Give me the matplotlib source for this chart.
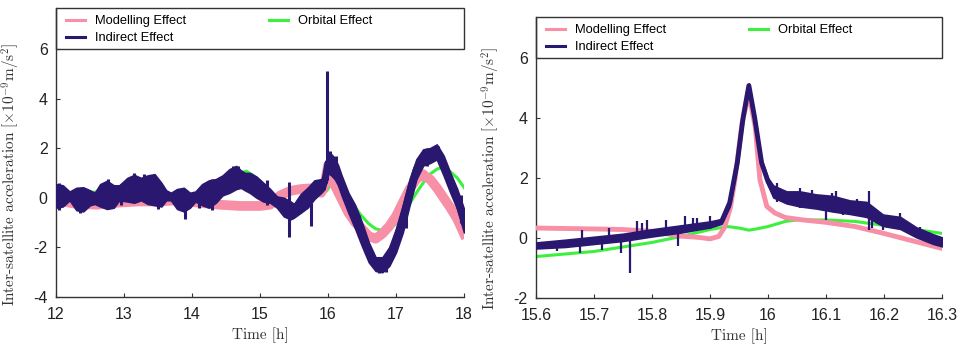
import matplotlib
matplotlib.use('Agg')
import matplotlib.pyplot as plt
from matplotlib.patches import Rectangle
from matplotlib.ticker import FormatStrFormatter
import numpy as np

# --- DATA: left panel, 12h - 18h ---
left_orb_t = [12.0, 12.2, 12.5, 12.8, 13.0, 13.3, 13.6, 13.8, 14.0, 14.15, 14.3, 14.5, 14.65, 14.8,
              14.9, 15.0, 15.1, 15.2, 15.3, 15.4, 15.5, 15.6, 15.7, 15.8, 15.9, 15.95, 15.97,
              16.0, 16.05, 16.1, 16.2, 16.3, 16.4, 16.5, 16.6, 16.7, 16.8, 16.9, 17.0, 17.1,
              17.2, 17.3, 17.4, 17.5, 17.6, 17.65, 17.7, 17.8, 17.9, 18.0]
left_orb_v = [0.0, 0.05, 0.2, 0.32, 0.35, 0.25, 0.05, -0.05, -0.05, 0.05, 0.3, 0.7, 0.95, 1.07,
              0.9, 0.6, 0.25, -0.1, -0.4, -0.62, -0.72, -0.6, -0.3, 0.0, 0.2, 0.3, 0.25,
              0.35, 0.62, 0.55, 0.3, -0.05, -0.4, -0.75, -1.05, -1.25, -1.32, -1.25, -1.05, -0.7,
              -0.25, 0.2, 0.6, 0.95, 1.15, 1.2, 1.18, 1.05, 0.8, 0.42]

left_mod_t = [12.0, 12.3, 12.6, 12.9, 13.2, 13.5, 13.8, 14.1, 14.4, 14.7, 15.0, 15.15,
              15.3, 15.45, 15.6, 15.75, 15.9, 15.95, 16.0, 16.05, 16.1, 16.2, 16.3, 16.4, 16.5,
              16.6, 16.7, 16.8, 16.9, 17.0, 17.1, 17.2, 17.3, 17.4, 17.45, 17.5, 17.6, 17.7,
              17.8, 17.9, 18.0]
left_mod_v = [-0.1, -0.25, -0.28, -0.2, -0.15, -0.15, -0.1, -0.2, -0.28, -0.33, -0.33, -0.28,
              0.1, 0.28, 0.35, 0.38, 0.2, 0.5, 1.3, 0.75, 0.5, -0.05, -0.6, -1.0, -1.25,
              -1.55, -1.65, -1.45, -1.15, -0.75, -0.2, 0.35, 0.75, 0.95, 0.82, 0.75, 0.4, 0.0,
              -0.4, -0.85, -1.45]

# indirect effect: noise band, lower and upper edge
left_ind_t = [12.0, 12.1, 12.2, 12.3, 12.4, 12.5, 12.57, 12.65, 12.75, 12.85, 12.93, 13.05, 13.15,
              13.25, 13.35, 13.45, 13.55, 13.62, 13.69, 13.78, 13.88, 13.97, 14.05, 14.15, 14.25,
              14.35, 14.45, 14.55, 14.65, 14.72, 14.78, 14.85, 14.95, 15.05, 15.15, 15.25, 15.35,
              15.45, 15.5, 15.6, 15.7, 15.8, 15.9, 15.95, 16.0, 16.05, 16.1, 16.15, 16.2, 16.3,
              16.4, 16.5, 16.6, 16.7, 16.8, 16.9, 17.0, 17.1, 17.2, 17.3, 17.4, 17.5, 17.6, 17.7,
              17.8, 17.9, 18.0]
left_ind_lo = [-0.4, -0.35, -0.1, -0.5, -0.55, -0.3, -0.25, -0.35, -0.45, -0.4, -0.1, -0.15, -0.2,
               -0.1, -0.25, -0.3, -0.35, -0.1, -0.1, -0.45, -0.55, -0.4, -0.15, -0.3, -0.4,
               -0.2, 0.1, 0.2, 0.35, 0.4, 0.3, 0.2, 0.0, -0.15, -0.2, -0.4, -0.75,
               -0.87, -0.8, -0.6, -0.4, -0.05, 0.2, 0.35, 1.0, 0.9, 0.75, 0.5, 0.1, -0.6,
               -1.25, -1.95, -2.6, -2.95, -3.0, -2.75, -2.2, -1.4, -0.3, 0.75, 1.3, 1.4, 1.55, 0.9,
               0.2, -0.45, -1.4]
left_ind_hi = [0.55, 0.5, 0.25, 0.4, 0.42, 0.3, 0.2, 0.55, 0.68, 0.5, 0.5, 0.8, 0.92,
               0.8, 0.9, 0.95, 0.6, 0.3, 0.2, 0.35, 0.4, 0.2, 0.25, 0.55, 0.7,
               0.75, 0.9, 1.15, 1.28, 1.1, 1.0, 1.0, 0.85, 0.6, 0.35, 0.05, 0.0,
               -0.15, -0.25, 0.15, 0.4, 0.7, 0.75, 0.9, 1.8, 1.75, 1.6, 1.3, 0.9, 0.2,
               -0.3, -1.0, -1.8, -2.4, -2.4, -2.0, -1.25, -0.3, 0.75, 1.55, 1.95, 2.0, 2.15, 1.7,
               1.0, 0.35, -0.45]

# short glitches in the indirect signal: time, min, max
left_spk_t = [12.05, 12.35, 12.76, 12.95, 13.15, 13.3, 13.5, 13.9, 14.1, 14.3, 14.6, 14.68,
              15.1, 15.42, 15.75, 15.98, 16.03, 16.12, 16.45, 16.75, 16.85, 17.15, 17.45,
              17.62, 17.95]
left_spk_lo = [-0.5, -0.63, 0.2, -0.3, 0.3, 0.3, -0.46, -0.87, -0.4, -0.5, 0.3, 0.5,
               -0.3, -1.6, -1.13, 0.7, 1.0, 0.8, -1.6, -3.05, -3.0, -1.2, 1.3,
               1.5, -1.0]
left_spk_hi = [0.6, 0.1, 0.75, 0.55, 1.0, 0.97, 0.2, -0.1, 0.3, 0.75, 1.3, 1.3,
               0.7, 0.62, -0.2, 5.1, 1.9, 1.7, -0.7, -2.4, -2.4, 0.1, 2.0,
               2.1, 0.1]

# --- DATA: right panel, 15.6h - 16.3h ---
right_orb_t = [15.6, 15.7, 15.8, 15.85, 15.9, 15.93, 15.95, 15.967, 15.98, 16.0, 16.03, 16.05,
               16.1, 16.15, 16.2, 16.25, 16.3]
right_orb_v = [-0.62, -0.45, -0.15, 0.05, 0.28, 0.38, 0.33, 0.26, 0.3, 0.38, 0.55, 0.6,
               0.6, 0.55, 0.42, 0.3, 0.15]

right_mod_t = [15.6, 15.7, 15.75, 15.8, 15.85, 15.88, 15.9, 15.915, 15.925, 15.935, 15.943, 15.955,
               15.967, 15.978, 15.986, 15.998, 16.012, 16.03, 16.06, 16.1, 16.15, 16.2, 16.25, 16.3]
right_mod_v = [0.33, 0.3, 0.28, 0.22, 0.06, 0.02, -0.03, 0.05, 0.35, 1.0, 1.94, 3.8,
               4.78, 3.7, 1.94, 1.05, 0.83, 0.68, 0.6, 0.52, 0.38, 0.15, -0.1, -0.35]

right_ind_t = [15.6, 15.65, 15.7, 15.75, 15.8, 15.85, 15.9, 15.92, 15.934, 15.947, 15.957, 15.967,
               15.977, 15.989, 16.0, 16.009, 16.032, 16.055, 16.083, 16.112, 16.141, 16.17, 16.198,
               16.228, 16.256, 16.285, 16.3]
right_ind_lo = [-0.35, -0.3, -0.2, -0.1, 0.05, 0.18, 0.35, 0.47, 1.05, 2.4, 3.9, 5.0,
                3.9, 2.4, 1.75, 1.35, 1.15, 1.05, 0.98, 0.88, 0.8, 0.7, 0.4,
                0.3, 0.02, -0.2, -0.28]
right_ind_hi = [-0.15, -0.06, 0.04, 0.14, 0.29, 0.42, 0.55, 0.63, 1.3, 2.6, 4.1, 5.15,
                4.1, 2.6, 2.0, 1.75, 1.55, 1.55, 1.45, 1.4, 1.25, 1.2, 0.78,
                0.7, 0.35, 0.12, 0.02]

right_spk_t = [15.636, 15.676, 15.68, 15.714, 15.726, 15.746, 15.762, 15.774, 15.783, 15.791,
               15.824, 15.845, 15.857, 15.871, 15.878, 15.9, 16.016, 16.055, 16.075, 16.1, 16.11,
               16.118, 16.13, 16.154, 16.174, 16.18, 16.199, 16.228, 16.262]
right_spk_lo = [-0.45, -0.5, -0.1, -0.41, -0.1, -0.5, -1.16, 0.0, 0.0, 0.1,
                0.1, -0.28, 0.2, 0.3, 0.3, 0.3, 1.2, 1.0, 1.0, 0.61, 1.0,
                1.0, 0.75, 0.72, 0.28, 0.33, 0.28, 0.3, 0.0]
right_spk_hi = [-0.1, -0.1, 0.28, 0.0, 0.34, 0.0, -0.1, 0.55, 0.5, 0.6,
                0.6, 0.25, 0.72, 0.67, 0.65, 0.72, 1.84, 1.67, 1.6, 1.2, 1.5,
                1.55, 1.3, 1.3, 1.56, 1.0, 0.7, 0.83, 0.35]

labels = ['Modelling Effect', 'Indirect Effect', 'Orbital Effect']
c_mod = '#f78fa7'
c_ind = '#2a1870'
c_orb = '#3ef03e'
c_axis = '#333333'

plt.rcParams['mathtext.fontset'] = 'cm'
plt.rcParams['axes.unicode_minus'] = False
plt.rcParams['font.family'] = ['Liberation Sans', 'DejaVu Sans']

fig = plt.figure(figsize=(9.62, 3.48), dpi=100)
ax1 = fig.add_axes([0.0582, 0.1466, 0.4241, 0.8305])
ax2 = fig.add_axes([0.5572, 0.1437, 0.4220, 0.8075])


def draw_panel(ax, orb, mod, ind, spikes, mod_lw, ind_lw, spk_lw):
    h_orb, = ax.plot(orb[0], orb[1], color=c_orb, lw=2.2, zorder=2)
    h_mod, = ax.plot(mod[0], mod[1], color=c_mod, lw=mod_lw, solid_joinstyle='round', zorder=3)
    t, lo, hi = np.array(ind[0]), np.array(ind[1]), np.array(ind[2])
    ax.fill_between(t, lo, hi, color=c_ind, lw=1.2, edgecolor=c_ind, zorder=4)
    h_ind, = ax.plot(t, (lo + hi) / 2, color=c_ind, lw=ind_lw, solid_joinstyle='round', zorder=4)
    ax.vlines(spikes[0], spikes[1], spikes[2], color=c_ind, lw=spk_lw, zorder=4)
    return [h_mod, h_ind, h_orb]


def style_axes(ax, handles, y_low, y_high):
    ax.set_ylim(y_low, y_high)
    for side in ['top', 'right']:
        ax.spines[side].set_visible(False)
    for side in ['left', 'bottom']:
        ax.spines[side].set_color(c_axis)
        ax.spines[side].set_linewidth(1.0)
    ax.tick_params(direction='in', length=3, width=0.8, color=c_axis,
                   labelsize=11.5, labelcolor='#222222')
    ax.tick_params(axis='x', pad=7)
    ax.tick_params(axis='y', pad=6)
    ax.set_xlabel('Time [h]', family='cmr10', fontsize=11, color=c_axis)
    ax.set_ylabel(r'Inter-satellite acceleration $[\times10^{-9}\mathrm{m/s^2}]$',
                  family='cmr10', fontsize=11, color=c_axis)
    ax.yaxis.set_label_coords(-0.083, 0.425)

    # legend box spans the axes width above the y = 6 line
    y6 = (6 - y_low) / (y_high - y_low)
    ax.add_patch(Rectangle((0, y6), 1, 1 - y6, transform=ax.transAxes, fill=False,
                           edgecolor=c_axis, lw=1.0, clip_on=False, zorder=6))
    leg = ax.legend(handles, labels, loc='upper left', bbox_to_anchor=(0.007, 1.0),
                    ncol=2, borderaxespad=0, fontsize=9.3, frameon=False,
                    handlelength=1.5, handletextpad=0.75, labelspacing=0.38,
                    borderpad=0.55, columnspacing=6.4)
    for line in leg.get_lines():
        line.set_linewidth(2.2)


h1 = draw_panel(ax1, (left_orb_t, left_orb_v), (left_mod_t, left_mod_v),
                (left_ind_t, left_ind_lo, left_ind_hi),
                (left_spk_t, left_spk_lo, left_spk_hi), mod_lw=7, ind_lw=5, spk_lw=2.2)
ax1.set_xlim(12, 18)
ax1.set_xticks([12, 13, 14, 15, 16, 17, 18])
ax1.set_yticks([-4, -2, 0, 2, 4, 6])
style_axes(ax1, h1, -4, 7.65)

h2 = draw_panel(ax2, (right_orb_t, right_orb_v), (right_mod_t, right_mod_v),
                (right_ind_t, right_ind_lo, right_ind_hi),
                (right_spk_t, right_spk_lo, right_spk_hi), mod_lw=3.5, ind_lw=3.5, spk_lw=1.6)
ax2.set_xlim(15.6, 16.3)
ax2.set_xticks([15.6, 15.7, 15.8, 15.9, 16.0, 16.1, 16.2, 16.3])
ax2.set_yticks([-2, 0, 2, 4, 6])
ax2.xaxis.set_major_formatter(FormatStrFormatter('%g'))
style_axes(ax2, h2, -2, 7.36)

fig.savefig('out.png', dpi=100)
